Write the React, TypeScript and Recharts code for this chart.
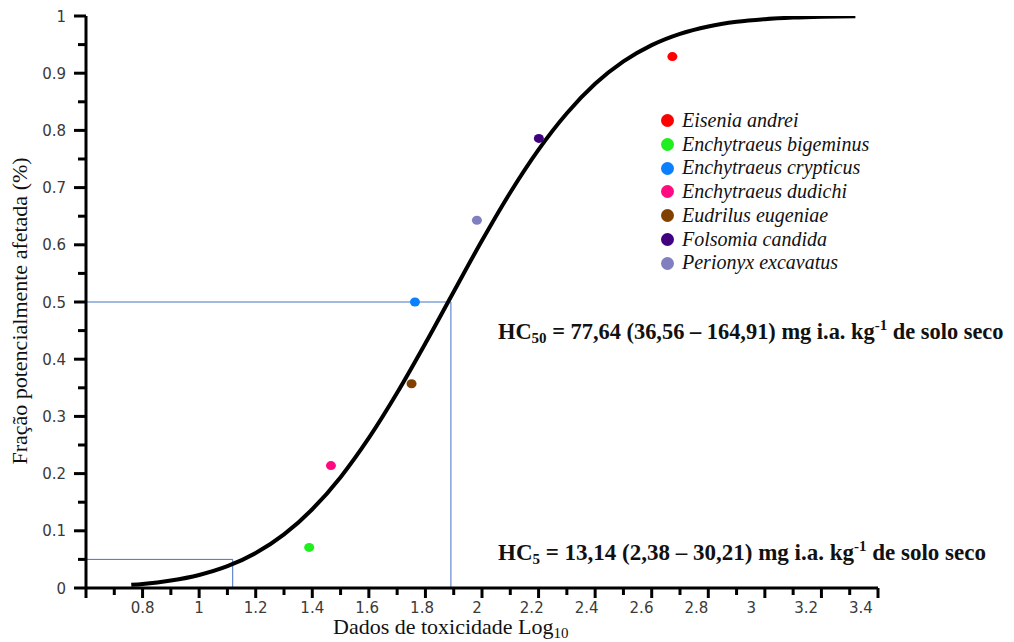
import {
  ComposedChart,
  Line,
  Scatter,
  XAxis,
  YAxis,
  ReferenceLine,
  Legend,
} from "recharts";

// Fitted species sensitivity curve (log10 toxicity vs. affected fraction)
const curveLog = [
  0.76, 0.8, 0.9, 1.0, 1.1, 1.2, 1.3, 1.4, 1.5, 1.6, 1.7, 1.8, 1.9, 2.0, 2.1,
  2.2, 2.3, 2.4, 2.5, 2.6, 2.7, 2.8, 2.9, 3.0, 3.1, 3.2, 3.32,
];
const curveFraction = [
  0.0055, 0.007, 0.013, 0.0228, 0.0381, 0.0611, 0.0937, 0.1377, 0.1938, 0.2623,
  0.3413, 0.4278, 0.518, 0.6075, 0.6915, 0.7664, 0.83, 0.8814, 0.9206, 0.9491,
  0.9688, 0.9817, 0.9898, 0.9945, 0.9972, 0.9987, 0.9995,
];

const speciesNames = [
  "Eisenia andrei",
  "Enchytraeus bigeminus",
  "Enchytraeus crypticus",
  "Enchytraeus dudichi",
  "Eudrilus eugeniae",
  "Folsomia candida",
  "Perionyx excavatus",
];
const speciesColors = [
  "#ff0000",
  "#1fee1f",
  "#0a80ff",
  "#ff0a80",
  "#804000",
  "#400080",
  "#8080c0",
];
const speciesLog = [2.673, 1.389, 1.763, 1.466, 1.751, 2.201, 1.982];
const speciesFraction = [0.929, 0.071, 0.5, 0.214, 0.357, 0.786, 0.643];

// Hazardous concentrations (mg i.a. kg-1)
const hc50Value = 77.64;
const hc5Value = 13.14;
const hc50Log = Math.log10(hc50Value);
const hc5Log = Math.log10(hc5Value);

const xTicks = [
  0.6, 0.7, 0.8, 0.9, 1.0, 1.1, 1.2, 1.3, 1.4, 1.5, 1.6, 1.7, 1.8, 1.9, 2.0,
  2.1, 2.2, 2.3, 2.4, 2.5, 2.6, 2.7, 2.8, 2.9, 3.0, 3.1, 3.2, 3.3, 3.4,
];
const yTicks = [
  0, 0.05, 0.1, 0.15, 0.2, 0.25, 0.3, 0.35, 0.4, 0.45, 0.5, 0.55, 0.6, 0.65,
  0.7, 0.75, 0.8, 0.85, 0.9, 0.95, 1,
];

const curveData = curveLog.map((x, i) => ({ x, y: curveFraction[i] }));

const serif = '"Liberation Serif", "Times New Roman", serif';
const tickFont = '"DejaVu Sans", sans-serif';
const guideColor = "#4472c4";

const fmt = (v: number) => String(Number(v.toFixed(1)));

// eslint-disable-next-line @typescript-eslint/no-explicit-any
function XTick({ x, y, payload }: any) {
  const v = payload.value as number;
  const major = Math.round(v * 10) % 2 === 0;
  return (
    <g>
      <line x1={x} x2={x} y1={y} y2={y + (major ? 10 : 7)} stroke="#000" strokeWidth={3} />
      {major && v > 0.65 && (
        <text
          x={x - Math.max(0, v - 1.4) * 8.5}
          y={y + 25}
          textAnchor="middle"
          fontFamily={tickFont}
          fontSize={15}
          fill="#3a3a3a"
        >
          {fmt(v)}
        </text>
      )}
    </g>
  );
}

// eslint-disable-next-line @typescript-eslint/no-explicit-any
function YTick({ x, y, payload }: any) {
  const v = payload.value as number;
  const major = Math.round(v * 100) % 10 === 0;
  return (
    <g>
      <line x1={x - (major ? 12 : 8)} x2={x} y1={y} y2={y} stroke="#000" strokeWidth={3} />
      {major && (
        <text
          x={x - 20}
          y={y + 5.5}
          textAnchor="end"
          fontFamily={tickFont}
          fontSize={15}
          fill="#3a3a3a"
        >
          {fmt(v)}
        </text>
      )}
    </g>
  );
}

function SpeciesLegend() {
  return (
    <div
      style={{
        fontFamily: serif,
        fontStyle: "italic",
        fontSize: 20,
        lineHeight: "23.7px",
        color: "#111",
      }}
    >
      {speciesNames.map((name, i) => (
        <div key={name} style={{ display: "flex", alignItems: "center", whiteSpace: "nowrap" }}>
          <span
            style={{
              display: "inline-block",
              width: 13,
              height: 13,
              borderRadius: "50%",
              background: speciesColors[i],
              marginRight: 8,
            }}
          />
          {name}
        </div>
      ))}
    </div>
  );
}

// eslint-disable-next-line @typescript-eslint/no-explicit-any
const dotShape = (props: any) => (
  <ellipse cx={props.cx} cy={props.cy} rx={5} ry={4.5} fill={props.fill} />
);

export default function App() {
  return (
    <div style={{ position: "absolute", left: 0, top: 0, width: 1014, height: 642, background: "#fff" }}>
      <ComposedChart
        width={1014}
        height={642}
        margin={{ top: 16, right: 136, bottom: 24, left: 0 }}
      >
        <XAxis
          type="number"
          dataKey="x"
          domain={[0.6, 3.4]}
          ticks={xTicks}
          interval={0}
          allowDataOverflow
          height={30}
          tickLine={false}
          tickSize={0}
          tickMargin={0}
          tick={XTick}
          axisLine={{ stroke: "#000", strokeWidth: 3 }}
        />
        <YAxis
          type="number"
          dataKey="y"
          domain={[0, 1]}
          ticks={yTicks}
          interval={0}
          allowDataOverflow
          width={86}
          tickLine={false}
          tickSize={0}
          tickMargin={0}
          tick={YTick}
          axisLine={{ stroke: "#000", strokeWidth: 3 }}
        />
        <ReferenceLine
          segment={[{ x: 0.6, y: 0.5 }, { x: hc50Log, y: 0.5 }]}
          stroke={guideColor}
          strokeWidth={1}
        />
        <ReferenceLine
          segment={[{ x: hc50Log, y: 0.5 }, { x: hc50Log, y: 0 }]}
          stroke={guideColor}
          strokeWidth={1}
        />
        <ReferenceLine
          segment={[{ x: 0.6, y: 0.05 }, { x: hc5Log, y: 0.05 }]}
          stroke={guideColor}
          strokeWidth={1}
        />
        <ReferenceLine
          segment={[{ x: hc5Log, y: 0.05 }, { x: hc5Log, y: 0 }]}
          stroke={guideColor}
          strokeWidth={1}
        />
        <Line
          data={curveData}
          dataKey="y"
          type="monotone"
          stroke="#000"
          strokeWidth={4}
          dot={false}
          activeDot={false}
          legendType="none"
          isAnimationActive={false}
        />
        {speciesNames.map((name, i) => (
          <Scatter
            key={name}
            name={name}
            data={[{ x: speciesLog[i], y: speciesFraction[i] }]}
            fill={speciesColors[i]}
            shape={dotShape}
            isAnimationActive={false}
          />
        ))}
        <Legend
          layout="horizontal"
          verticalAlign="middle"
          align="center"
          content={SpeciesLegend}
          wrapperStyle={{ left: 661, top: 109, width: "auto" }}
        />
      </ComposedChart>

      <svg
        width={1014}
        height={642}
        style={{ position: "absolute", left: 0, top: 0, pointerEvents: "none" }}
      >
        <text
          transform="translate(27 311) rotate(-90)"
          textAnchor="middle"
          fontFamily={serif}
          fontSize={22}
          fill="#111"
        >
          Fração potencialmente afetada (%)
        </text>
        <text x={333} y={634} fontFamily={serif} fontSize={22} fill="#111">
          Dados de toxicidade Log
          <tspan fontSize={15} dy={4}>10</tspan>
        </text>
        <text x={498} y={339} fontFamily={serif} fontWeight="bold" fontSize={22.4} fill="#111">
          HC<tspan fontSize={15} dy={4}>50</tspan>
          <tspan dy={-4}> = 77,64 (36,56 – 164,91) mg i.a. kg</tspan>
          <tspan fontSize={15} dy={-9}>-1</tspan>
          <tspan dy={9}> de solo seco</tspan>
        </text>
        <text x={498} y={560} fontFamily={serif} fontWeight="bold" fontSize={23} fill="#111">
          HC<tspan fontSize={15} dy={4}>5</tspan>
          <tspan dy={-4}> = 13,14 (2,38 – 30,21) mg i.a. kg</tspan>
          <tspan fontSize={15} dy={-9}>-1</tspan>
          <tspan dy={9}> de solo seco</tspan>
        </text>
      </svg>
    </div>
  );
}
